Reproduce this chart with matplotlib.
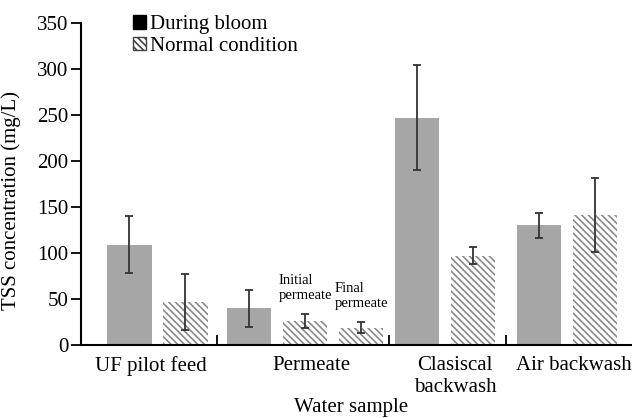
import matplotlib
matplotlib.use('Agg')
import matplotlib.pyplot as plt
from matplotlib.patches import Patch

plt.rcParams['font.family'] = ['Liberation Serif', 'DejaVu Serif']
plt.rcParams['hatch.linewidth'] = 1.2

# values (mg/L)
groups = ['UF pilot feed', 'Permeate', 'Clasiscal\nbackwash', 'Air backwash']
bloom_tss = [109, 40, 247, 130]
bloom_sd = [31, 20, 57, 13.5]
normal_tss = [47, 26, 19, 97, 141]
normal_sd = [30.5, 8, 6, 9, 40]
normal_group = [0, 1, 1, 2, 3]          # permeate has two normal-condition bars
permeate_notes = ['Initial\npermeate', 'Final\npermeate']

# layout: one bar per unit, small extra gaps between some groups
bars_in_group = [1 + normal_group.count(g) for g in range(len(groups))]
extra_gap = [0, 0.14, 0, 0.18]
label_shift = [-0.11, 0.11, 0.18, 0.12]

starts = []
pos = 0.0
for n, g in zip(bars_in_group, extra_gap):
    pos += g
    starts.append(pos)
    pos += n

bloom_x = starts
normal_x = []
seen = {}
for g in normal_group:
    seen[g] = seen.get(g, 0) + 1
    normal_x.append(starts[g] + seen[g])

separators = [(starts[i] + bars_in_group[i] - 1 + starts[i + 1]) / 2
              for i in range(len(groups) - 1)]
label_x = [s + (n - 1) / 2 + d for s, n, d in zip(starts, bars_in_group, label_shift)]

fig = plt.figure(figsize=(6.32, 4.18), dpi=100)
ax = fig.add_axes([81 / 632, 1 - 345 / 418, 1 - 81 / 632, (345 - 23) / 418])

gray = '#a6a6a6'
hatch_col = '#8a8a8a'
hatch = '\\' * 5
err_kw = dict(ecolor='#333333', elinewidth=1.3, capsize=3, capthick=1.3)

ax.bar(bloom_x, bloom_tss, width=0.8, color=gray, linewidth=0,
       yerr=bloom_sd, error_kw=err_kw)
ax.bar(normal_x, normal_tss, width=0.8, facecolor='white', edgecolor=hatch_col,
       linewidth=0, hatch=hatch, yerr=normal_sd, error_kw=err_kw)

# notes over the two permeate bars
perm_idx = [i for i, g in enumerate(normal_group) if g == 1]
for note, i in zip(permeate_notes, perm_idx):
    ax.text(normal_x[i] - 0.47, normal_tss[i] + normal_sd[i] + 28, note,
            fontsize=10.5, ha='left', va='center', linespacing=1.25)

ax.set_xlim(-0.86, 8.98)
ax.set_ylim(0, 350)
ax.set_yticks(range(0, 351, 50))
ax.set_xticks(label_x, groups)
ax.set_xticks(separators, minor=True)
ax.tick_params(axis='x', which='major', length=0, pad=8, labelsize=15)
ax.tick_params(axis='x', which='minor', direction='in', length=7, width=1.3)
ax.tick_params(axis='y', direction='out', length=7, width=1.3, pad=2, labelsize=15)

for s in ['top', 'right']:
    ax.spines[s].set_visible(False)
for s in ['left', 'bottom']:
    ax.spines[s].set_linewidth(1.5)

ax.set_xlabel('Water sample', fontsize=15)
ax.xaxis.set_label_coords(0.49, -0.165)
ax.set_ylabel('TSS concentration (mg/L)', fontsize=15)
ax.yaxis.set_label_coords(-0.108, 0.45)

handles = [Patch(facecolor='black', edgecolor='black', label='During bloom'),
           Patch(facecolor='white', edgecolor='#444444', hatch=hatch,
                 label='Normal condition')]
fig.legend(handles=handles, loc='upper left', bbox_to_anchor=(133 / 632, 1 - 15 / 418),
           frameon=False, fontsize=15, handlelength=0.62, handleheight=0.62,
           handletextpad=0.2, labelspacing=0.12, borderpad=0, borderaxespad=0)

fig.savefig('out.png', dpi=100)
